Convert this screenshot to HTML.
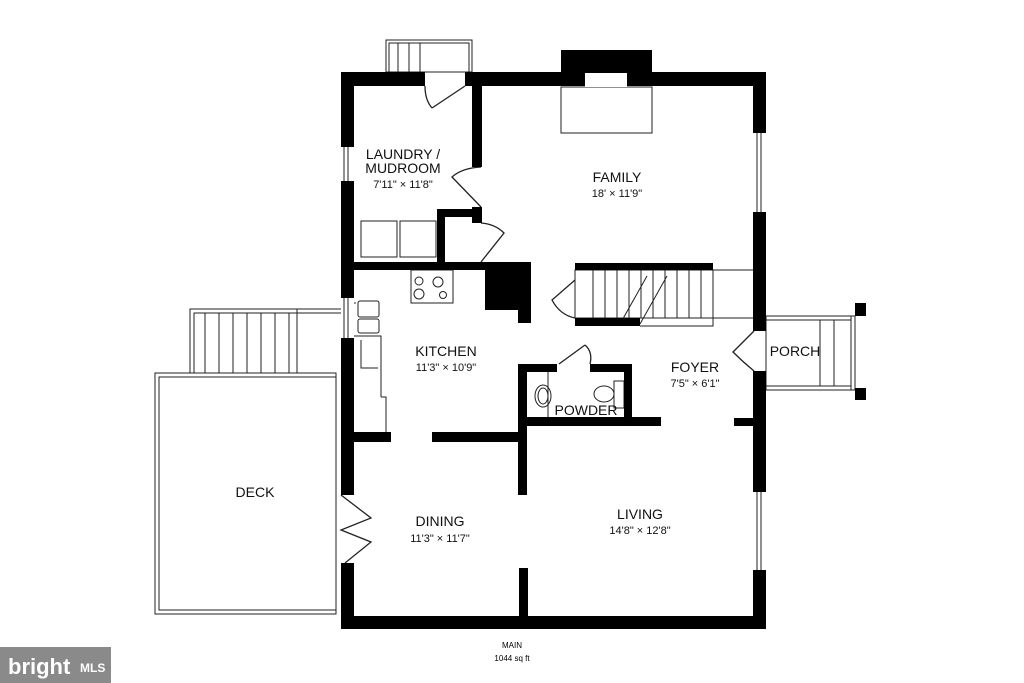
<!DOCTYPE html>
<html><head><style>
body{margin:0;background:#fff;}
svg{display:block;font-family:"Liberation Sans",sans-serif;}
.t{font-size:14px;text-anchor:middle;fill:#111;}
.d{font-size:11px;text-anchor:middle;fill:#111;}
</style></head><body>
<svg width="1024" height="683" viewBox="0 0 1024 683">
<rect width="1024" height="683" fill="#fff"/>
<g fill="none" stroke="#222" stroke-width="1">
<!-- deck -->
<rect x="155" y="373" width="181" height="241"/>
<rect x="159" y="377" width="177" height="233"/>
<rect x="190" y="309" width="107" height="64"/>
<rect x="194" y="313" width="103" height="60"/>
<path d="M205 313V373M219 313V373M233 313V373M247 313V373M261 313V373M275 313V373M289 313V373"/>
<path d="M297 309H341M297 313H341"/>
<!-- laundry stairs -->
<rect x="386" y="40" width="86" height="32"/>
<rect x="389" y="43" width="80" height="29"/>
<path d="M398 43V72M409 43V72M420 43V72"/>
<!-- hearth -->
<rect x="561" y="87" width="91" height="46"/>
<!-- washer/dryer -->
<rect x="361" y="221" width="36" height="36"/><rect x="400" y="221" width="36" height="36"/>
<!-- counters -->
<rect x="411" y="270" width="42" height="33"/>
<circle cx="419" cy="281" r="4"/><circle cx="419" cy="294" r="5"/><circle cx="438" cy="282" r="5"/><circle cx="443" cy="295" r="3.5"/>
<rect x="358" y="301" width="21" height="16" rx="2"/><rect x="358" y="319" width="21" height="14" rx="2"/>
<path d="M354 303H356M354 336H381V397M381 397H386V432M361 340V368H378" />
<path d="M361 340V368H378" stroke-dasharray="4,3"/>
<!-- stairs -->
<rect x="575" y="270" width="138" height="48"/>
<path d="M713 270H754M713 318H754M713 318V326H640"/>
<path d="M593 270V318M605 270V318M617 270V318M629 270V318M641 270V318M653 270V318M665 270V318M677 270V318M689 270V318M701 270V318"/>
<path d="M620 324L647 276M640 324L667 276"/>
<!-- powder fixtures -->
<ellipse cx="543" cy="396" rx="8" ry="11"/><ellipse cx="543" cy="396" rx="5" ry="8"/>
<path d="M548 372V417"/>
<rect x="614" y="381" width="10" height="27"/>
<ellipse cx="604" cy="394" rx="10" ry="8"/>
<!-- porch -->
<rect x="766" y="316" width="89" height="74"/>
<path d="M766 320H851M766 386H851M820 320V386M834 320V386M851 316V390"/>
<!-- windows -->
<path d="M344 147V181M348 147V181M344 298V338M348 298V338M757 133V212M761 133V212M757 492V570M761 492V570"/>
<!-- doors -->
<path d="M465 86L432 108M425 86Q425 100 432 108" stroke-width="1.3"/>
<path d="M481 207L452 177Q462 168 481 167" stroke-width="1.3"/>
<path d="M481 262L504 233Q495 224 481 223" stroke-width="1.3"/>
<path d="M575 280L552 300Q560 315 575 318" stroke-width="1.3"/>
<path d="M585 345L559 364M585 345Q593 352 590 364" stroke-width="1.3"/>
<path d="M754 331L733 352Q743 362 754 371" stroke-width="1.3"/>
<path d="M341 495L371 518L341 530L371 542L345 563" stroke-width="1.3"/>
</g>
<g fill="#000">
<!-- outer walls -->
<rect x="341" y="72" width="84" height="14"/>
<rect x="465" y="72" width="301" height="14"/>
<rect x="561" y="50" width="91" height="23"/>
<rect x="341" y="72" width="13" height="75"/>
<rect x="341" y="181" width="13" height="117"/>
<rect x="341" y="338" width="13" height="157"/>
<rect x="341" y="563" width="13" height="66"/>
<rect x="341" y="616" width="425" height="13"/>
<rect x="753" y="72" width="13" height="61"/>
<rect x="753" y="212" width="13" height="119"/>
<rect x="753" y="371" width="13" height="121"/>
<rect x="753" y="570" width="13" height="59"/>
<!-- interior -->
<rect x="472" y="86" width="10" height="81"/>
<rect x="437" y="209" width="45" height="8"/>
<rect x="472" y="207" width="10" height="16"/>
<rect x="437" y="209" width="8" height="55"/>
<rect x="354" y="262" width="131" height="8"/>
<rect x="485" y="262" width="46" height="48"/>
<rect x="518" y="262" width="13" height="61"/>
<rect x="575" y="263" width="138" height="7"/>
<rect x="575" y="318" width="65" height="8"/>
<rect x="354" y="432" width="37" height="10"/>
<rect x="432" y="432" width="95" height="10"/>
<rect x="518" y="364" width="9" height="131"/>
<rect x="518" y="364" width="39" height="8"/>
<rect x="590" y="364" width="42" height="8"/>
<rect x="624" y="364" width="8" height="56"/>
<rect x="527" y="417" width="134" height="9"/>
<rect x="734" y="418" width="20" height="8"/>
<rect x="519" y="568" width="9" height="48"/>
<rect x="855" y="303" width="11" height="13"/>
<rect x="855" y="388" width="11" height="12"/>
</g>
<rect x="585" y="73" width="42" height="14" fill="#fff"/>
<text class="t" x="403" y="159">LAUNDRY /</text>
<text class="t" x="403" y="173">MUDROOM</text>
<text class="d" x="403" y="188">7'11" × 11'8"</text>
<text class="t" x="617" y="182">FAMILY</text>
<text class="d" x="617" y="197">18' × 11'9"</text>
<text class="t" x="446" y="356">KITCHEN</text>
<text class="d" x="446" y="371">11'3" × 10'9"</text>
<text class="t" x="695" y="372">FOYER</text>
<text class="d" x="695" y="387">7'5" × 6'1"</text>
<text class="t" x="586" y="415">POWDER</text>
<text class="t" x="795" y="356">PORCH</text>
<text class="t" x="255" y="497">DECK</text>
<text class="t" x="440" y="526">DINING</text>
<text class="d" x="440" y="542">11'3" × 11'7"</text>
<text class="t" x="640" y="519">LIVING</text>
<text class="d" x="640" y="534">14'8" × 12'8"</text>
<text x="512" y="648" style="font-size:8px;text-anchor:middle">MAIN</text>
<text x="512" y="661" style="font-size:8px;text-anchor:middle">1044 sq ft</text>
<rect x="0" y="647" width="111" height="36" fill="#8a8a8a"/>
<text x="8" y="674" style="font-size:22px;fill:#fff;font-weight:bold">bright</text>
<text x="80" y="672" style="font-size:12px;fill:#fff;font-weight:bold">MLS</text>
</svg>
</body></html>
